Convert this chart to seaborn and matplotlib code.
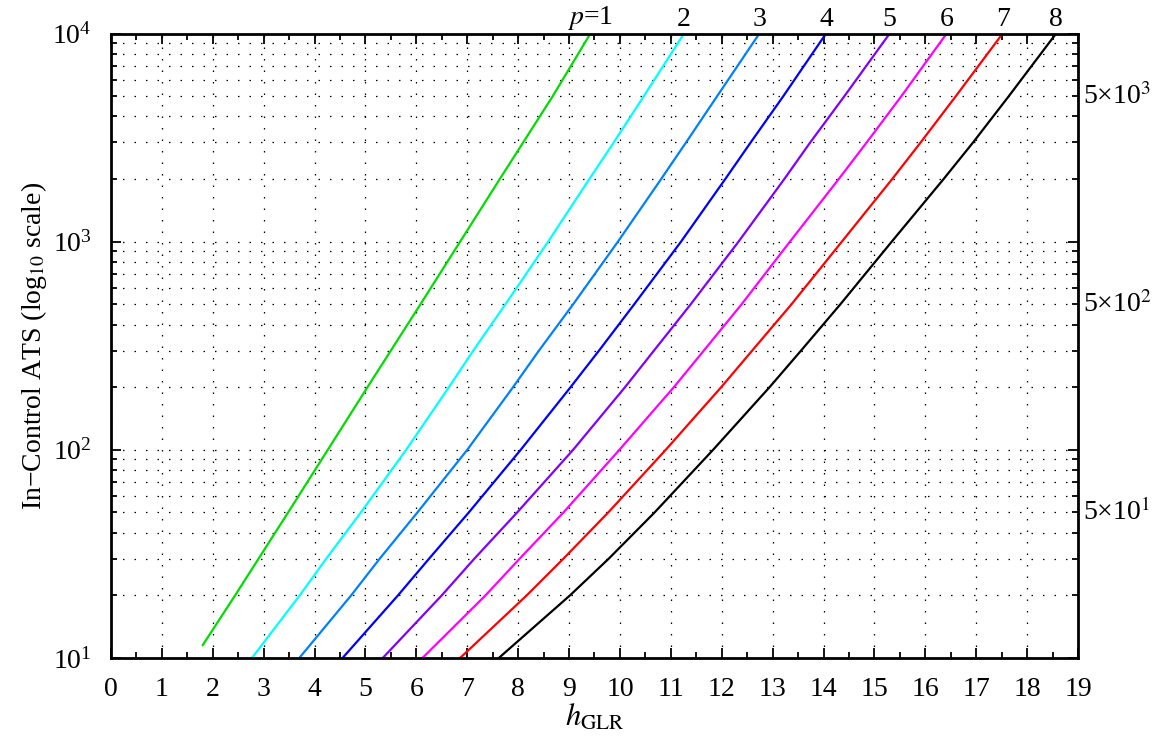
import numpy as np
import pandas as pd
import matplotlib
matplotlib.use("Agg")
import matplotlib.pyplot as plt
import matplotlib.ticker as mticker
import seaborn as sns

ATS_LEVELS = [10, 20, 30, 50, 100, 200, 300, 500, 1000, 2000, 3000, 5000, 10000]
ATS_P1 = [11.5, 20, 30, 50, 100, 200, 300, 500, 1000, 2000, 3000, 5000, 10000]  # p=1 starts a bit above 10

# h_GLR thresholds per dimension p
H_P1 = [1.80, 2.44, 2.90, 3.48, 4.26, 5.04, 5.50, 6.08, 6.86, 7.64, 8.10, 8.68, 9.42]
H_P2 = [2.77, 3.71, 4.23, 4.91, 5.80, 6.64, 7.12, 7.75, 8.59, 9.40, 9.88, 10.47, 11.26]
H_P3 = [3.70, 4.72, 5.28, 6.02, 7.00, 7.90, 8.41, 9.08, 9.96, 10.81, 11.30, 11.91, 12.74]
H_P4 = [4.55, 5.64, 6.25, 7.03, 8.05, 9.03, 9.59, 10.28, 11.20, 12.07, 12.57, 13.21, 14.05]
H_P5 = [5.34, 6.50, 7.14, 7.98, 9.08, 10.10, 10.67, 11.39, 12.33, 13.23, 13.74, 14.41, 15.30]
H_P6 = [6.12, 7.36, 8.03, 8.89, 9.99, 11.06, 11.65, 12.39, 13.34, 14.30, 14.85, 15.53, 16.42]
H_P7 = [6.86, 8.17, 8.89, 9.77, 10.90, 11.99, 12.60, 13.37, 14.36, 15.35, 15.91, 16.60, 17.52]
H_P8 = [7.62, 9.02, 9.78, 10.68, 11.83, 12.94, 13.56, 14.33, 15.34, 16.36, 16.94, 17.64, 18.57]

P_VALUES = [1, 2, 3, 4, 5, 6, 7, 8]
COLORS = ['#00dd00', '#00ffff', '#0080ff', '#0000ff',
          '#8000ff', '#ff00ff', '#ff0000', '#000000']
RIGHT_LABELS = [5000, 500, 50]


def main():
    sns.set_style("ticks", {"axes.edgecolor": "black", "xtick.color": "black",
                            "ytick.color": "black", "text.color": "black",
                            "axes.labelcolor": "black"})
    plt.rcParams['font.family'] = 'serif'
    plt.rcParams['font.serif'] = ['Liberation Serif', 'DejaVu Serif']
    plt.rcParams['mathtext.fontset'] = 'stix'

    all_h = [H_P1, H_P2, H_P3, H_P4, H_P5, H_P6, H_P7, H_P8]
    rows = []
    for p, hs in zip(P_VALUES, all_h):
        ats = ATS_P1 if p == 1 else ATS_LEVELS
        for h, a in zip(hs, ats):
            rows.append({'h': h, 'ats': a, 'p': p})
    df = pd.DataFrame(rows)

    fig = plt.figure(figsize=(11.61, 7.45), dpi=100)
    ax = fig.add_axes([0.0956, 0.1168, 0.8329, 0.8382])
    ax.set_yscale('log')

    sns.lineplot(data=df, x='h', y='ats', hue='p', palette=COLORS,
                 sort=False, estimator=None, legend=False, lw=1.6, ax=ax)

    ax.set_xlim(0, 19)
    ax.set_ylim(10, 1e4)
    ax.set_xticks(np.arange(0, 20, 1))
    ax.xaxis.set_minor_locator(mticker.MultipleLocator(0.5))
    ax.yaxis.set_major_locator(mticker.LogLocator(base=10))
    ax.yaxis.set_minor_locator(mticker.LogLocator(base=10, subs=np.arange(2, 10)))
    ax.yaxis.set_minor_formatter(mticker.NullFormatter())

    dots = (0, (1.2, 8))
    ax.grid(True, axis='x', which='major', color='k', lw=0.9, linestyle=dots)
    ax.grid(True, axis='y', which='both', color='k', lw=0.9, linestyle=dots)

    ax.tick_params(which='both', direction='in', top=True, right=True,
                   labelsize=20, width=1.3, color='black', labelcolor='black')
    ax.tick_params(which='major', length=7, pad=14)
    ax.tick_params(which='minor', length=4)
    for s in ax.spines.values():
        s.set_linewidth(2)
        s.set_color('black')

    ax.set_xlabel(r'$h_{\mathrm{GLR}}$', fontsize=22, labelpad=0)
    ax.set_ylabel('In\u2212Control ATS (log$_{10}$ scale)', fontsize=20, labelpad=2)

    # p labels at the top end of each curve
    for p, hs in zip(P_VALUES, all_h):
        txt = '$p$=1' if p == 1 else str(p)
        ax.text(hs[-1], 1.002, txt, transform=ax.get_xaxis_transform(),
                ha='center', va='bottom', fontsize=20)

    # right side annotations
    for v in RIGHT_LABELS:
        exp = int(np.log10(v / 5))
        ax.text(1.005, v, '5\u00d710$^{%d}$' % exp, transform=ax.get_yaxis_transform(),
                ha='left', va='center', fontsize=20)

    fig.savefig('out.png', dpi=100)


if __name__ == "__main__":
    main()
